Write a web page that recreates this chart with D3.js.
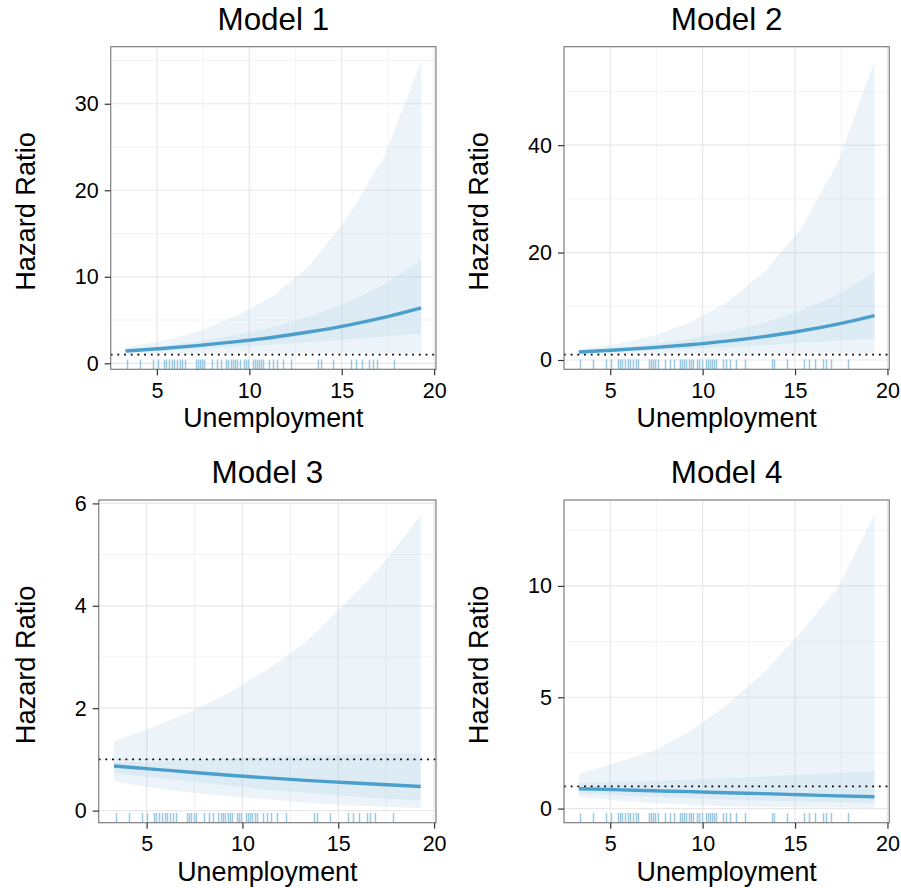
<!DOCTYPE html>
<html>
<head>
<meta charset="utf-8">
<script src="https://cdn.jsdelivr.net/npm/d3@7"></script>
<style>
  body { margin: 0; background: #fff; }
  svg text { font-family: "Liberation Sans", Arial, Helvetica, sans-serif; fill: #000; }
</style>
</head>
<body>
<svg id="plt"></svg>
<script>
// x grid the hazard ratios were evaluated on
const gridX = [3.3, 5.3, 7.3, 9.3, 11.3, 13.3, 15.3, 17.3, 19.3];

// Model 1
const m1Est  = [1.42, 1.71, 2.07, 2.50, 3.01, 3.64, 4.39, 5.30, 6.40];
const m1Lo95 = [1.09, 1.13, 1.14, 1.15, 1.16, 1.16, 1.16, 1.17, 1.17];
const m1Hi95 = [1.85, 2.57, 3.73, 5.46, 7.77, 11.4, 16.8, 23.9, 34.9];
const m1Lo50 = [1.30, 1.48, 1.68, 1.90, 2.16, 2.44, 2.74, 3.10, 3.40];
const m1Hi50 = [1.55, 1.98, 2.55, 3.28, 4.20, 5.43, 7.02, 9.10, 11.9];

// Model 2
const m2Est  = [1.50, 1.86, 2.30, 2.85, 3.52, 4.36, 5.40, 6.69, 8.28];
const m2Lo95 = [1.10, 1.13, 1.14, 1.15, 1.16, 1.17, 1.19, 1.21, 1.23];
const m2Hi95 = [2.00, 2.92, 4.40, 7.00, 10.7, 16.3, 24.3, 36.7, 55.6];
const m2Lo50 = [1.36, 1.59, 1.80, 2.05, 2.38, 2.75, 3.20, 3.65, 4.00];
const m2Hi50 = [1.66, 2.18, 2.95, 3.96, 5.20, 6.91, 9.13, 12.1, 16.5];

// Model 3
const m3Est  = [0.87, 0.81, 0.75, 0.69, 0.64, 0.59, 0.55, 0.51, 0.47];
const m3Lo95 = [0.57, 0.44, 0.35, 0.28, 0.22, 0.16, 0.11, 0.075, 0.05];
const m3Hi95 = [1.35, 1.63, 1.93, 2.30, 2.75, 3.30, 4.02, 4.80, 5.78];
const m3Lo50 = [0.73, 0.65, 0.57, 0.49, 0.41, 0.35, 0.29, 0.24, 0.19];
const m3Hi50 = [0.94, 0.96, 0.99, 1.02, 1.05, 1.07, 1.09, 1.11, 1.12];

// Model 4
const m4Est  = [0.89, 0.85, 0.80, 0.76, 0.71, 0.67, 0.62, 0.57, 0.53];
const m4Lo95 = [0.53, 0.36, 0.25, 0.17, 0.11, 0.075, 0.05, 0.035, 0.025];
const m4Hi95 = [1.56, 2.05, 2.58, 3.45, 4.65, 6.10, 7.90, 9.90, 13.2];
const m4Lo50 = [0.68, 0.60, 0.53, 0.47, 0.41, 0.36, 0.32, 0.28, 0.24];
const m4Hi50 = [1.15, 1.19, 1.24, 1.30, 1.37, 1.44, 1.52, 1.60, 1.68];

// observed unemployment values (rug)
const rugX = [3.38, 4.06, 4.78, 5.04, 5.40, 5.51, 5.65, 5.79, 5.94, 6.08, 6.23, 6.37, 6.52,
  7.09, 7.20, 7.31, 7.45, 7.56, 7.99, 8.25, 8.46, 8.75, 8.86, 9.00, 9.11, 9.25, 9.36, 9.47,
  9.72, 9.83, 9.94, 10.19, 10.30, 10.41, 10.52, 10.63, 10.74, 11.09, 11.28, 11.49, 11.82,
  12.28, 13.73, 13.87, 14.55, 15.49, 15.78, 16.07, 16.50, 16.68, 16.93, 17.84];

const titles = ["Model 1", "Model 2", "Model 3", "Model 4"];
const xTicks = [5, 10, 15, 20];
const yTicksList = [[0, 10, 20, 30], [0, 20, 40], [0, 2, 4, 6], [0, 5, 10]];
const refLine = 1;

const models = [
  [m1Est, m1Lo95, m1Hi95, m1Lo50, m1Hi50],
  [m2Est, m2Lo95, m2Hi95, m2Lo50, m2Hi50],
  [m3Est, m3Lo95, m3Hi95, m3Lo50, m3Hi50],
  [m4Est, m4Lo95, m4Hi95, m4Lo50, m4Hi50]
];

// panel boxes
const boxes = [
  { left: 110.7, right: 436,   top: 46.7, bottom: 369.3, titleY: 30,    yTitleX: 35 },
  { left: 564,   right: 889.3, top: 46.7, bottom: 369.3, titleY: 30,    yTitleX: 488.3 },
  { left: 98.7,  right: 436,   top: 500,  bottom: 822.7, titleY: 483.3, yTitleX: 35 },
  { left: 564,   right: 889.3, top: 500,  bottom: 822.7, titleY: 483.3, yTitleX: 488.3 }
];

const lineCol = "#4b9fcc",
    bandCol = "#9ecae1",
    rugCol = "#9cc9e2";

const svg = d3.select("#plt")
    .attr("width", 901)
    .attr("height", 888);

function expand(lo, hi) {
  const d = (hi - lo) * 0.05;
  return [lo - d, hi + d];
}

models.forEach(function (m, k) {
  const b = boxes[k];
  const rows = gridX.map(function (x, i) {
    return { x: x, est: m[0][i], lo95: m[1][i], hi95: m[2][i], lo50: m[3][i], hi50: m[4][i] };
  });

  const x = d3.scaleLinear()
      .domain(expand(d3.min(gridX), d3.max(gridX)))
      .range([b.left, b.right]);
  const y = d3.scaleLinear()
      .domain(expand(Math.min(refLine, d3.min(m[1])), Math.max(refLine, d3.max(m[2]))))
      .range([b.bottom, b.top]);

  const g = svg.append("g").attr("id", "panel" + (k + 1));

  g.append("clipPath").attr("id", "clip" + k)
      .append("rect")
      .attr("x", b.left).attr("y", b.top)
      .attr("width", b.right - b.left).attr("height", b.bottom - b.top);

  const inner = g.append("g").attr("clip-path", "url(#clip" + k + ")");

  // minor grid
  const yT = yTicksList[k];
  const yStep = yT[1] - yT[0];
  const yMinor = [];
  for (let v = yT[0] - yStep / 2; v <= y.domain()[1]; v += yStep) {
    if (v >= y.domain()[0]) yMinor.push(v);
  }
  const xMinor = [2.5, 7.5, 12.5, 17.5];

  inner.selectAll(".hminor").data(yMinor).enter().append("line")
      .attr("x1", b.left).attr("x2", b.right)
      .attr("y1", d => y(d)).attr("y2", d => y(d))
      .attr("stroke", "#f3f3f3").attr("stroke-width", 1);
  inner.selectAll(".vminor").data(xMinor).enter().append("line")
      .attr("y1", b.top).attr("y2", b.bottom)
      .attr("x1", d => x(d)).attr("x2", d => x(d))
      .attr("stroke", "#f3f3f3").attr("stroke-width", 1);

  // major grid
  inner.selectAll(".hmajor").data(yT).enter().append("line")
      .attr("x1", b.left).attr("x2", b.right)
      .attr("y1", d => y(d)).attr("y2", d => y(d))
      .attr("stroke", "#e8e8e8").attr("stroke-width", 1.2);
  inner.selectAll(".vmajor").data(xTicks).enter().append("line")
      .attr("y1", b.top).attr("y2", b.bottom)
      .attr("x1", d => x(d)).attr("x2", d => x(d))
      .attr("stroke", "#e8e8e8").attr("stroke-width", 1.2);

  // confidence bands
  inner.append("path").datum(rows)
      .attr("d", d3.area().x(d => x(d.x)).y0(d => y(d.lo95)).y1(d => y(d.hi95)))
      .attr("fill", bandCol).attr("fill-opacity", 0.2);
  inner.append("path").datum(rows)
      .attr("d", d3.area().x(d => x(d.x)).y0(d => y(d.lo50)).y1(d => y(d.hi50)))
      .attr("fill", bandCol).attr("fill-opacity", 0.2);

  // reference line
  inner.append("line")
      .attr("x1", b.left).attr("x2", b.right)
      .attr("y1", y(refLine)).attr("y2", y(refLine))
      .attr("stroke", "#000").attr("stroke-width", 1.8)
      .attr("stroke-dasharray", "1.8,4.9");

  // estimate
  inner.append("path").datum(rows)
      .attr("d", d3.line().curve(d3.curveMonotoneX).x(d => x(d.x)).y(d => y(d.est)))
      .attr("fill", "none").attr("stroke", lineCol).attr("stroke-width", 3.4);

  // rug
  const rugLen = (b.bottom - b.top) * 0.03;
  inner.selectAll(".rug").data(rugX).enter().append("line")
      .attr("x1", d => Math.round(x(d)) + 0.5).attr("x2", d => Math.round(x(d)) + 0.5)
      .attr("y1", b.bottom).attr("y2", b.bottom - rugLen)
      .attr("stroke", rugCol).attr("stroke-width", 1.5);

  // border
  g.append("rect")
      .attr("x", b.left).attr("y", b.top)
      .attr("width", b.right - b.left).attr("height", b.bottom - b.top)
      .attr("fill", "none").attr("stroke", "#7f7f7f").attr("stroke-width", 1.2);

  // axes
  const gx = g.append("g")
      .attr("transform", "translate(0," + b.bottom + ")")
      .call(d3.axisBottom(x).tickValues(xTicks).tickFormat(d3.format("d")).tickSize(6).tickPadding(7.5));
  const gy = g.append("g")
      .attr("transform", "translate(" + b.left + ",0)")
      .call(d3.axisLeft(y).tickValues(yT).tickFormat(d3.format("d")).tickSize(6).tickPadding(6));
  [gx, gy].forEach(function (a) {
    a.select(".domain").remove();
    a.selectAll(".tick line").attr("stroke", "#333").attr("stroke-width", 1.2);
    a.selectAll(".tick text")
        .style("font-family", "'Liberation Sans', Arial, sans-serif")
        .style("font-size", "21.5px").attr("fill", "#000");
  });

  // titles
  const cx = (b.left + b.right) / 2;
  g.append("text")
      .attr("x", cx).attr("y", b.titleY)
      .attr("text-anchor", "middle")
      .style("font-size", "31.4px")
      .text(titles[k]);
  g.append("text")
      .attr("x", cx).attr("y", b.bottom + 58)
      .attr("text-anchor", "middle")
      .style("font-size", "26.8px")
      .text("Unemployment");
  g.append("text")
      .attr("transform", "translate(" + b.yTitleX + "," + ((b.top + b.bottom) / 2 + 3.5) + ") rotate(-90)")
      .attr("text-anchor", "middle")
      .style("font-size", "27.2px")
      .text("Hazard Ratio");
});
</script>
</body>
</html>
